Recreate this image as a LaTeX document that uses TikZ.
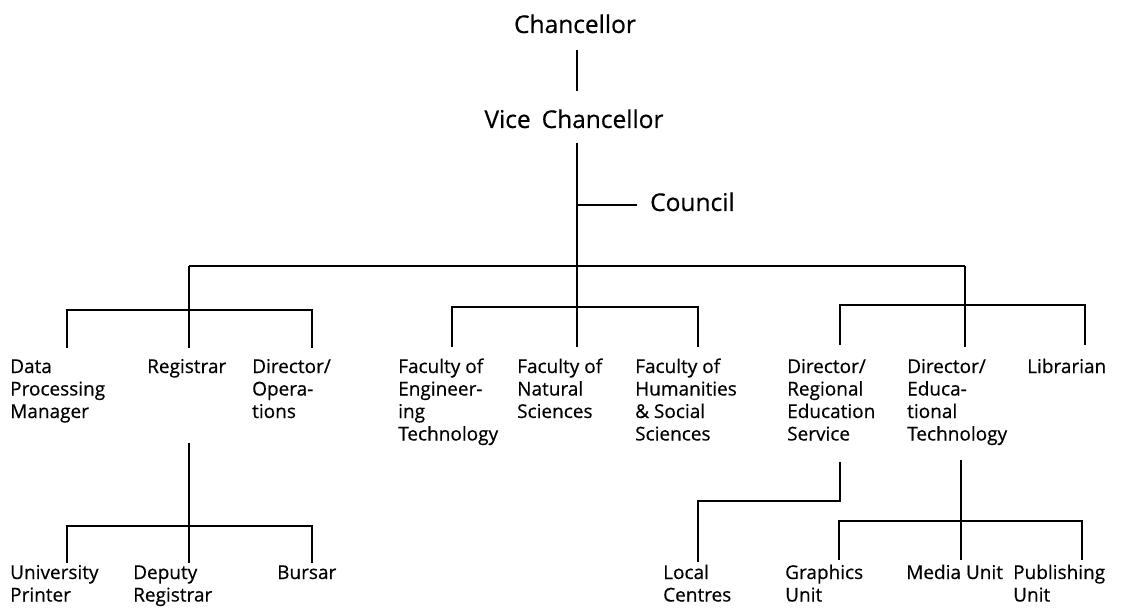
\documentclass[tikz,border=0pt]{standalone}
\usepackage{fontspec}
\setmainfont{Open Sans}[FakeBold=0.5]
% multi-line label whose baseline is that of its first line
\newcommand\lbltxt[1]{\begin{tabular}[t]{@{}l@{}}#1\end{tabular}}
\begin{document}
\begin{tikzpicture}[x=1pt,y=-1pt,
  lbl/.style={anchor=base west, inner sep=0pt, font=\fontsize{19}{22.5}\selectfont},
  head/.style={anchor=base, inner sep=0pt, font=\fontsize{24.5}{28}\selectfont},
  wire/.style={line width=1.8pt}]
\useasboundingbox (0,0) rectangle (1128,615);

% ---- top of the hierarchy
\node[head] (chan) at (575,33) {Chancellor};
\node[head] (vc) at (574,128) {Vice\hspace{0.45em}Chancellor};
\node[head, anchor=base west] (council) at (650,211) {Council};

% ---- second level
\node[lbl] (dpm) at (10,373) {\lbltxt{Data\\Processing\\Manager}};
\node[lbl] (reg) at (147,373) {\lbltxt{Registrar}};
\node[lbl] (dop) at (252,373) {\lbltxt{Director/\\Opera-\\tions}};
\node[lbl] (eng) at (398,373) {\lbltxt{Faculty of\\Engineer-\\ing\\Technology}};
\node[lbl] (nat) at (517,373) {\lbltxt{Faculty of\\Natural\\Sciences}};
\node[lbl] (hum) at (635,373) {\lbltxt{Faculty of\\Humanities\\\& Social\\Sciences}};
\node[lbl] (res) at (787,373) {\lbltxt{Director/\\Regional\\Education\\Service}};
\node[lbl] (det) at (907,373) {\lbltxt{Director/\\Educa-\\tional\\Technology}};
\node[lbl] (lib) at (1027,373) {\lbltxt{Librarian}};

% ---- third level
\node[lbl] (up) at (10,579) {\lbltxt{University\\Printer}};
\node[lbl] (dr) at (133,579) {\lbltxt{Deputy\\Registrar}};
\node[lbl] (bur) at (277,579) {\lbltxt{Bursar}};
\node[lbl] (lc) at (663,579) {\lbltxt{Local\\Centres}};
\node[lbl] (gu) at (785,579) {\lbltxt{Graphics\\Unit}};
\node[lbl] (mu) at (906,579) {\lbltxt{Media Unit}};
\node[lbl] (pu) at (1013,579) {\lbltxt{Publishing\\Unit}};

% ---- connector ends and junctions
\coordinate (chan-out) at (577,50);
\coordinate (vc-in) at (577,91);
\coordinate (vc-out) at (577,143);
\coordinate (council-join) at (577,205);
\coordinate (council-in) at (637,205);
\coordinate (hub) at (577,266);
\coordinate (lhub) at (189,266);
\coordinate (rhub) at (965,266);
\coordinate (lbar) at (189,310);
\coordinate (cbar) at (577,307);
\coordinate (rbar) at (965,305);
\coordinate (dpm-in) at (67,348);
\coordinate (reg-in) at (189,348);
\coordinate (dop-in) at (312,348);
\coordinate (eng-in) at (452,347);
\coordinate (nat-in) at (577,347);
\coordinate (hum-in) at (698,347);
\coordinate (res-in) at (840,345);
\coordinate (det-in) at (965,347);
\coordinate (lib-in) at (1085,345);

\coordinate (reg-out) at (189,443);
\coordinate (regbar) at (189,526);
\coordinate (up-in) at (67,563);
\coordinate (dr-in) at (189,563);
\coordinate (bur-in) at (312,563);

\coordinate (res-out) at (840,462);
\coordinate (res-bend) at (840,501);
\coordinate (lc-in) at (698,562);

\coordinate (det-out) at (961,460);
\coordinate (detbar) at (961,521);
\coordinate (gu-in) at (839,560);
\coordinate (mu-in) at (961,560);
\coordinate (pu-in) at (1082,560);

% ---- connectors
\draw[wire] (chan-out) -- (vc-in);
\draw[wire] (vc-out) -- (nat-in);
\draw[wire] (council-join) -- (council-in);
\draw[wire] (lhub) -- (rhub);

\draw[wire] (lhub) -- (reg-in);
\draw[wire] (dpm-in) |- (lbar) -| (dop-in);

\draw[wire] (eng-in) |- (cbar) -| (hum-in);

\draw[wire] (rhub) -- (det-in);
\draw[wire] (res-in) |- (rbar) -| (lib-in);

\draw[wire] (reg-out) -- (dr-in);
\draw[wire] (up-in) |- (regbar) -| (bur-in);

\draw[wire] (res-out) -- (res-bend) -| (lc-in);

\draw[wire] (det-out) -- (mu-in);
\draw[wire] (gu-in) |- (detbar) -| (pu-in);
\end{tikzpicture}
\end{document}
